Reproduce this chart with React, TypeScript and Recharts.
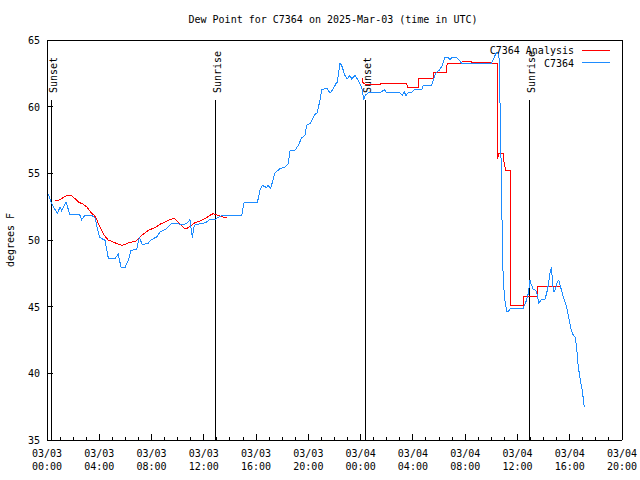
import React from 'react';
import { LineChart, Line, XAxis, YAxis, ReferenceLine } from 'recharts';

// x values are hours since 03/03 00:00 UTC
const stationPoints: number[][] = [
  [0.1, 53.43], [0.36, 52.73], [0.79, 51.98], [1.0, 52.48], [1.12, 52.18], [1.45, 52.85], [1.76, 51.9],
  [2.5, 51.9], [2.65, 51.53], [2.9, 51.85], [3.4, 51.85], [3.67, 51.68], [3.88, 50.73], [4.05, 50.18],
  [4.44, 49.98], [4.7, 48.6], [5.2, 48.6], [5.45, 48.93], [5.66, 47.98], [5.97, 47.93], [6.22, 48.48],
  [6.43, 49.23], [6.86, 49.28], [7.06, 50.18], [7.29, 49.68], [7.75, 49.73], [7.9, 49.98], [8.39, 50.23],
  [8.65, 50.6], [9.16, 50.86], [9.54, 51.23], [9.92, 51.23], [10.35, 51.16], [10.69, 51.23], [10.94, 51.53],
  [11.12, 50.18], [11.27, 51.1], [11.7, 51.23], [12.09, 51.28], [12.47, 51.53], [12.85, 51.53], [13.24, 51.78],
  [13.62, 51.85], [14.9, 51.85], [15.07, 52.78], [16.09, 52.78], [16.3, 53.73], [16.47, 54.1], [16.81, 53.93],
  [16.93, 54.1], [17.11, 53.85], [17.32, 54.6], [17.44, 55.02], [17.83, 55.35], [18.2, 55.47], [18.46, 55.72],
  [18.6, 56.72], [18.97, 56.72], [19.23, 57.1], [19.49, 57.67], [19.74, 57.85], [19.87, 58.6], [20.12, 58.72],
  [20.5, 59.42], [20.68, 59.52], [20.89, 60.52], [21.02, 61.27], [21.27, 61.35], [21.45, 61.35], [21.65, 61.02],
  [21.86, 61.27], [22.11, 61.72], [22.21, 61.84], [22.42, 63.26], [22.55, 63.09], [22.8, 62.34], [22.98, 62.09],
  [23.18, 62.34], [23.31, 62.09], [23.57, 62.34], [23.82, 61.97], [24.08, 61.47], [24.25, 60.52], [24.35, 60.84],
  [24.58, 61.05], [25.48, 61.05], [25.81, 61.27], [25.99, 61.05], [27.0, 61.05], [27.19, 60.84], [27.34, 61.1],
  [27.47, 60.84], [27.64, 61.05], [27.9, 61.05], [28.1, 61.27], [28.67, 61.27], [28.79, 61.6], [29.43, 61.6],
  [29.63, 62.21], [29.74, 62.47], [29.9, 62.66], [30.0, 62.72], [30.2, 63.0], [30.32, 63.34], [30.45, 63.71],
  [30.7, 63.71], [30.83, 63.52], [30.97, 63.66], [31.35, 63.66], [31.52, 63.52], [31.73, 63.26], [34.02, 63.26],
  [34.22, 63.71], [34.41, 64.09], [34.58, 64.09], [34.66, 60.47], [34.7, 59.2], [34.74, 56.22], [34.79, 53.22],
  [34.84, 50.23], [34.91, 46.98], [35.04, 45.5], [35.17, 44.65], [35.3, 44.65], [35.49, 44.9], [36.44, 44.9],
  [36.68, 45.45], [36.83, 45.99], [36.96, 46.98], [37.03, 46.74], [37.21, 46.29], [37.39, 46.24], [37.52, 45.86],
  [37.64, 45.29], [37.85, 45.54], [38.1, 45.54], [38.23, 45.99], [38.36, 46.61], [38.48, 47.49], [38.61, 47.98],
  [38.69, 46.61], [38.79, 46.11], [38.92, 46.36], [39.04, 46.86], [39.17, 46.98], [39.3, 46.49], [39.5, 45.74],
  [39.76, 44.99], [39.94, 44.12], [40.09, 43.37], [40.27, 42.86], [40.4, 42.74], [40.53, 41.99], [40.6, 40.99],
  [40.73, 39.99], [40.86, 39.25], [40.99, 38.5], [41.11, 37.45],
];

const analysisPoints: (number | null)[][] = [
  [0.61, 52.98], [0.87, 52.98], [1.12, 53.1], [1.38, 53.28], [1.63, 53.35], [1.84, 53.35], [2.14, 53.1],
  [2.4, 52.85], [2.78, 52.68], [3.04, 52.48], [3.37, 52.05], [3.62, 51.85], [3.8, 51.53], [4.05, 50.98],
  [4.38, 50.36], [4.69, 49.98], [4.95, 49.91], [5.33, 49.73], [5.72, 49.61], [5.97, 49.66], [6.22, 49.78],
  [6.48, 49.85], [6.79, 49.91], [6.99, 50.11], [7.25, 50.36], [7.5, 50.53], [7.75, 50.73], [8.26, 50.93],
  [8.65, 51.18], [9.03, 51.35], [9.28, 51.48], [9.66, 51.6], [9.79, 51.6], [10.18, 51.18], [10.56, 50.81],
  [10.81, 50.93], [11.07, 51.1], [11.32, 51.3], [11.7, 51.43], [12.09, 51.6], [12.47, 51.85], [12.72, 51.98],
  [13.1, 51.85], [13.44, 51.73], [13.8, 51.68],
  [18.0, null],
  [24.12, 62.14], [24.2, 61.72], [24.58, 61.67], [25.48, 61.67], [25.55, 61.72], [27.52, 61.72], [27.6, 61.42],
  [28.41, 61.42], [28.45, 62.09], [29.56, 62.09], [29.6, 62.59], [30.58, 62.59], [30.62, 63.26], [31.73, 63.26],
  [31.77, 63.41], [32.49, 63.41], [32.53, 63.29], [34.02, 63.29], [34.05, 63.22], [34.46, 63.22], [34.46, 56.1],
  [34.6, 56.52], [34.9, 56.52], [34.95, 55.97], [35.1, 55.22], [35.45, 55.22], [35.45, 45.11],
  [36.5, 45.11], [36.5, 45.73], [37.5, 45.73], [37.5, 46.49], [39.25, 46.49],
];

const sunHours = [0.34, 12.9, 24.35, 36.9];
const sunLabels = ['Sunset', 'Sunrise', 'Sunset', 'Sunrise'];

const majorHours = [0, 4, 8, 12, 16, 20, 24, 28, 32, 36, 40, 44];
const xTickDates = ['03/03', '03/03', '03/03', '03/03', '03/03', '03/03', '03/04', '03/04', '03/04', '03/04', '03/04', '03/04'];
const xTickTimes = ['00:00', '04:00', '08:00', '12:00', '16:00', '20:00', '00:00', '04:00', '08:00', '12:00', '16:00', '20:00'];
const allHours = Array.from({ length: 45 }, (_, i) => i);
const yTicks = [35, 40, 45, 50, 55, 60, 65];

const FONT = '"DejaVu Sans Mono", monospace';
const toRows = (pts: (number | null)[][]) => pts.map(([h, v]) => ({ h, v }));
const stationRows = toRows(stationPoints);
const analysisRows = toRows(analysisPoints);

function BottomTick({ x, y, payload }: any) {
  const i = majorHours.indexOf(payload.value);
  const major = i >= 0;
  return (
    <g>
      <line x1={x} y1={y} x2={x} y2={y - (major ? 6 : 3)} stroke="#000" />
      {major && (
        <text x={x} textAnchor="middle" fontFamily={FONT} fontSize={10} fill="#000">
          <tspan x={x} y={y + 17}>{xTickDates[i]}</tspan>
          <tspan x={x} y={y + 30}>{xTickTimes[i]}</tspan>
        </text>
      )}
    </g>
  );
}

function TopTick({ x, y, payload }: any) {
  const major = majorHours.includes(payload.value);
  return <line x1={x} y1={y} x2={x} y2={y + (major ? 6 : 3)} stroke="#000" />;
}

function LeftTick({ x, y, payload }: any) {
  return (
    <g>
      <line x1={x} y1={y} x2={x + 6} y2={y} stroke="#000" />
      <text x={x - 7} y={y + 4} textAnchor="end" fontFamily={FONT} fontSize={10} fill="#000">{payload.value}</text>
    </g>
  );
}

function RightTick({ x, y }: any) {
  return <line x1={x} y1={y} x2={x - 6} y2={y} stroke="#000" />;
}

const sunLabel = (text: string) => (props: any) => {
  const vb = props.viewBox || {};
  const lx = vb.x + 2;
  const ly = vb.y - 7;
  return (
    <text x={lx} y={ly} transform={`rotate(-90 ${lx} ${ly})`} textAnchor="start" dominantBaseline="central"
      fontFamily={FONT} fontSize={10} fill="#000">{text}</text>
  );
};

export default function App() {
  return (
    <div style={{ position: 'absolute', left: 0, top: 0, width: 640, height: 480, background: '#fff', shapeRendering: 'crispEdges' }}>
      <LineChart width={640} height={480} margin={{ top: 0, right: 0, bottom: 0, left: 0 }}>
        <XAxis xAxisId={0} dataKey="h" type="number" domain={[0, 44]} ticks={allHours} interval={0}
          height={40} tickSize={0} tickMargin={0} tickLine={false} axisLine={{ stroke: '#000' }} tick={<BottomTick />} />
        <XAxis xAxisId="top" orientation="top" dataKey="h" type="number" domain={[0, 44]} ticks={allHours} interval={0}
          height={40} tickSize={0} tickMargin={0} tickLine={false} axisLine={{ stroke: '#000' }} tick={<TopTick />} />
        <YAxis yAxisId={0} type="number" domain={[35, 65]} ticks={yTicks} interval={0} width={47}
          tickSize={0} tickMargin={0} tickLine={false} axisLine={{ stroke: '#000' }} tick={<LeftTick />} />
        <YAxis yAxisId="right" orientation="right" type="number" domain={[35, 65]} ticks={yTicks} interval={0} width={18}
          tickSize={0} tickMargin={0} tickLine={false} axisLine={{ stroke: '#000' }} tick={<RightTick />} />
        {sunHours.map((h, i) => (
          <ReferenceLine key={i} segment={[{ x: h, y: 35 }, { x: h, y: 60.5 }]} stroke="#000" strokeWidth={1}
            ifOverflow="visible" label={sunLabel(sunLabels[i])} />
        ))}
        <Line data={analysisRows} dataKey="v" type="linear" stroke="#ff0000" strokeWidth={1} dot={false}
          isAnimationActive={false} connectNulls={false} />
        <Line data={stationRows} dataKey="v" type="linear" stroke="#1e8cff" strokeWidth={1} dot={false}
          isAnimationActive={false} />
      </LineChart>
      <svg width={640} height={480} style={{ position: 'absolute', left: 0, top: 0, pointerEvents: 'none' }}>
        <text x={333} y={23} textAnchor="middle" fontFamily={FONT} fontSize={10} fill="#000">
          Dew Point for C7364 on 2025-Mar-03 (time in UTC)
        </text>
        <text x={14} y={240} transform="rotate(-90 14 240)" textAnchor="middle" fontFamily={FONT} fontSize={10} fill="#000">
          degrees F
        </text>
        <text x={574} y={54} textAnchor="end" fontFamily={FONT} fontSize={10} fill="#000">C7364 Analysis</text>
        <line x1={582} y1={50} x2={610} y2={50} stroke="#ff0000" />
        <text x={574} y={67} textAnchor="end" fontFamily={FONT} fontSize={10} fill="#000">C7364</text>
        <line x1={582} y1={62} x2={610} y2={62} stroke="#1e8cff" />
      </svg>
    </div>
  );
}
